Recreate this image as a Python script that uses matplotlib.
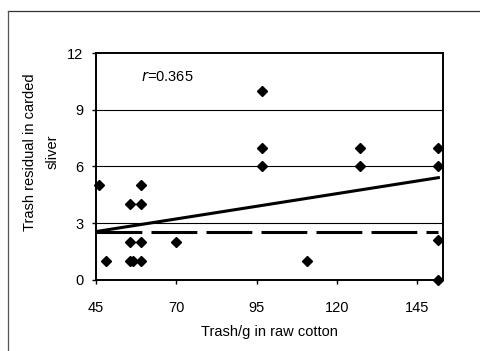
import matplotlib
matplotlib.use('Agg')
import matplotlib.pyplot as plt
from matplotlib.lines import Line2D

plt.rcParams['font.family'] = ['Liberation Sans', 'DejaVu Sans']

# trash/g in raw cotton vs trash residual in carded sliver
trash_raw = [45.8, 48, 55.5, 55.5, 55.5, 56.5, 59, 59, 59, 59, 70,
             96.5, 96.5, 96.5, 110.5, 127, 127, 151.5, 151.5, 151.5, 151.5]
trash_sliver = [5, 1, 4, 2, 1, 1, 5, 4, 2, 1, 2,
                10, 7, 6, 1, 7, 6, 7, 6, 2.1, 0]

# fitted line and reference (dashed) line
fit_x = [45, 151.5]
fit_y = [2.56, 5.41]
ref_x = [45, 151.5]
ref_y = [2.52, 2.52]

xticks = [45, 70, 95, 120, 145]
yticks = [0, 3, 6, 9, 12]
ylabel_lines = ['Trash residual in carded', 'sliver']

fig = plt.figure(figsize=(4.81, 3.51), dpi=100)
ax = fig.add_axes([0.1996, 0.2023, 0.7218, 0.6467])

for g in [3, 6, 9]:
    ax.axhline(g, color='black', lw=0.8, zorder=1)

ax.plot(ref_x, ref_y, color='black', lw=2.2, dashes=(15, 3), zorder=2)
ax.plot(fit_x, fit_y, color='black', lw=2.2, zorder=3)
ax.plot(trash_raw, trash_sliver, 'D', color='black', markersize=5.3,
        clip_on=False, zorder=4)

ax.set_xlim(45, 153)
ax.set_ylim(0, 12)
ax.set_xticks(xticks)
ax.set_yticks(yticks)
ax.tick_params(labelsize=10.5, length=3, width=1)
ax.tick_params(axis='x', pad=12)
ax.tick_params(axis='y', pad=6)
for s in ax.spines.values():
    s.set_linewidth(1.4)

ax.set_xlabel('Trash/g in raw cotton', fontsize=10.5, labelpad=7)
# y label: two rotated lines, each centred
for xpx, line in zip([30, 53], ylabel_lines):
    fig.text(xpx / 481, 1 - 152 / 351, line, rotation=90,
             fontsize=10.5, ha='center', va='center')

ax.text(0.13, 0.895, '$r$=0.365', transform=ax.transAxes, fontsize=10.5,
        ha='left', va='center')

# outer chart frame (top and left edges visible)
fig.add_artist(Line2D([8 / 481, 1], [1 - 11 / 351, 1 - 11 / 351],
                      transform=fig.transFigure, color='#333333', lw=0.9))
fig.add_artist(Line2D([8 / 481, 8 / 481], [0, 1 - 11 / 351],
                      transform=fig.transFigure, color='#555555', lw=0.9))

fig.savefig('out.png', dpi=100)
